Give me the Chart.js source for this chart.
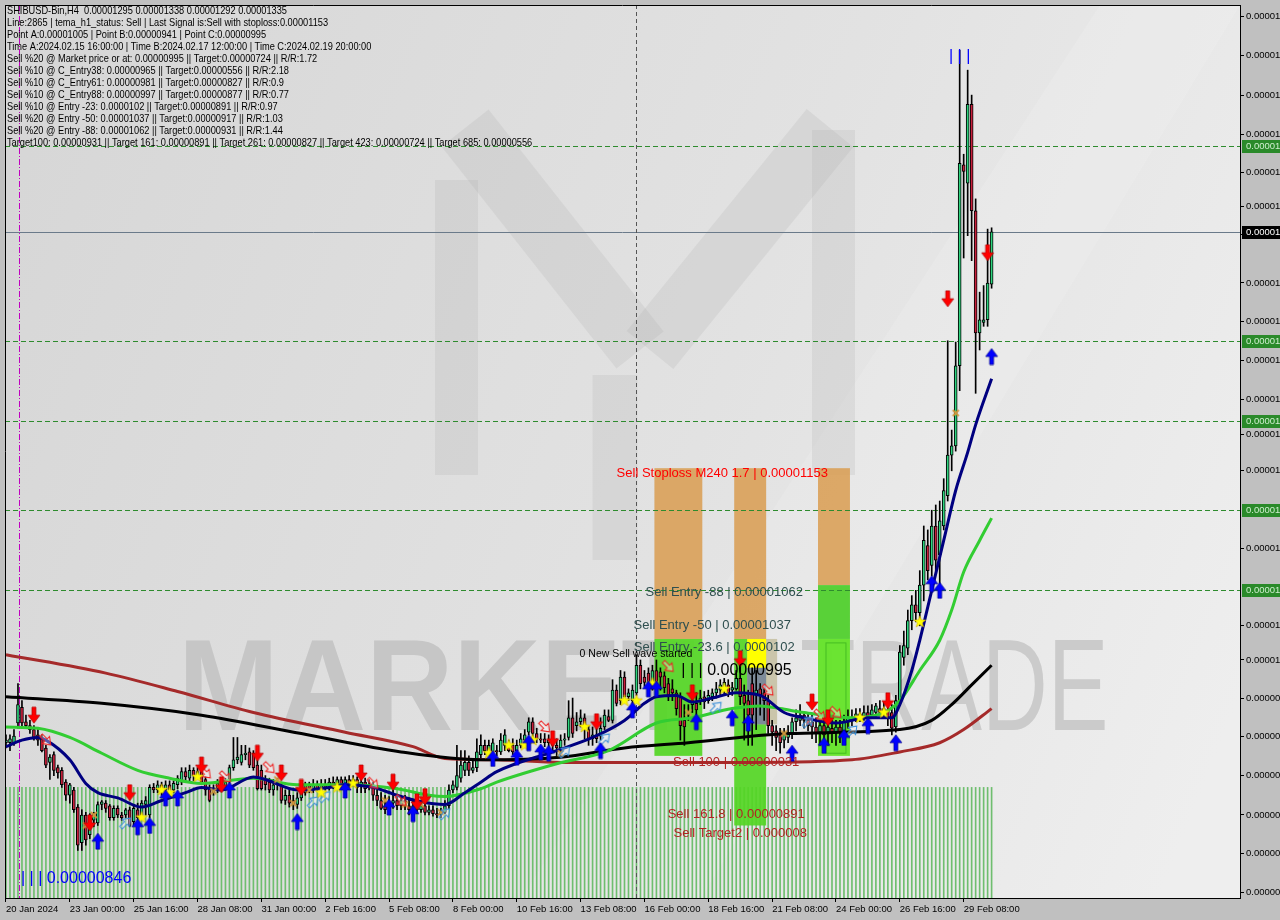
<!DOCTYPE html>
<html><head><meta charset="utf-8">
<script src="https://cdn.jsdelivr.net/npm/chart.js"></script>
<style>html,body{margin:0;padding:0;background:#c0c0c0;}canvas{display:block;}</style>
</head><body>
<canvas id="c" width="1280" height="920"></canvas>
<script>
// ---- DATA (prices in units of 1e-8 USD) ----
const xTickIdx = [0,16,32,48,64,80,96,112,128,144,160,176,192,208,224,240];
const xLabels = ['20 Jan 2024','23 Jan 00:00','25 Jan 16:00','28 Jan 08:00','31 Jan 00:00','2 Feb 16:00','5 Feb 08:00','8 Feb 00:00','10 Feb 16:00','13 Feb 08:00','16 Feb 00:00','18 Feb 16:00','21 Feb 08:00','24 Feb 00:00','26 Feb 16:00','29 Feb 08:00'];
const yTickVals = [1499,1469,1439,1409,1380,1354,1333,1296,1267,1237,1207,1181,1153,1094,1035,1009,980,951,921,891,862,832];

const open = [946,946,946,961,973,962,959,956,952,950, 942,931,937,927,925,916,906,910,897,870, 891,876,887,885,899,900,898,889,896,891, 891,895,886,895,891,899,891,912,910,914, 910,914,910,914,916,924,919,925,921,924, 918,911,908,911,915,912,918,927,933,931, 937,939,938,929,925,918,916,910,914,914, 902,906,902,899,904,908,914,911,914,912, 914,913,916,914,918,914,918,916,918,913, 916,912,914,906,902,898,896,900,902,898, 902,898,896,898,895,898,893,895,892,891, 893,898,910,912,919,925,931,925,927,937, 944,940,939,940,939,944,944,944,940,944, 948,954,962,953,949,949,946,948,944,942, 948,950,965,959,962,965,956,949,952,951, 958,966,963,986,978,996,981,978,984,1005, 996,999,992,1001,1000,997,991,987,984,981, 963,967,975,976,978,981,978,981,984,986, 986,990,986,987,995,982,978,991,982,987, 984,978,959,955,952,948,950,953,962,963, 967,963,962,958,954,959,954,957,954,958, 955,962,965,965,968,966,969,967,969,972, 969,971,969,958,978,1011,1018,1039,1051,1045, 1066,1096,1081,1111,1089,1111,1134,1165,1172,1233, 1386,1372,1432,1351,1258,1266,1268,1295];
const high = [952,952,956,991,978,967,963,959,956,952, 944,937,939,929,927,918,915,912,899,895, 893,892,893,901,902,902,899,898,898,893, 896,897,899,900,902,905,914,915,917,916, 917,917,917,921,927,927,929,927,927,925, 920,914,914,918,918,919,929,950,950,944, 944,942,940,933,929,921,919,918,919,916, 910,910,906,908,914,916,916,918,917,918, 918,919,920,920,920,920,921,921,920,919, 919,918,916,910,908,906,905,910,906,906, 906,904,902,902,902,901,898,898,896,896, 902,914,917,944,940,940,936,933,949,952, 948,948,949,944,953,956,948,949,948,953, 956,965,965,957,953,953,952,952,949,952, 953,978,980,969,971,968,959,958,957,965, 971,971,994,990,1001,1000,987,990,1013,1009, 1001,1003,1005,1009,1003,1000,995,994,986,984, 975,975,982,984,986,985,986,987,992,994, 995,994,992,1001,1005,990,986,1003,1001,991, 987,982,963,959,957,957,959,965,971,975, 969,969,967,965,963,963,963,963,963,963, 967,971,971,972,972,974,974,975,976,978, 977,978,975,982,1020,1031,1047,1058,1062,1077, 1111,1108,1123,1127,1130,1147,1252,1184,1251,1473, 1394,1458,1439,1360,1289,1294,1337,1338];
const low = [942,940,944,957,959,957,953,948,944,939, 927,918,921,919,912,902,900,893,864,864, 868,873,882,883,895,893,887,887,889,887, 889,882,883,887,889,891,889,908,908,906, 908,908,908,911,914,917,917,917,919,914, 906,901,906,908,910,910,915,925,930,929, 933,927,925,910,910,910,908,906,910,900, 899,897,895,896,902,906,908,908,910,908, 910,910,911,912,911,912,912,914,908,908, 908,910,902,898,895,892,893,896,895,895, 895,891,893,892,893,891,891,890,889,889, 892,896,908,910,916,921,921,923,924,934, 937,937,937,936,937,940,939,937,937,942, 946,952,950,946,946,943,942,940,936,936, 944,948,950,955,958,949,944,944,946,948, 956,962,961,974,975,978,978,975,982,987, 989,987,986,986,986,984,978,978,967,948, 944,963,969,967,975,972,976,978,980,982, 982,981,982,986,975,948,944,944,956,967, 963,953,944,940,938,942,946,949,955,959, 957,955,949,946,944,942,944,946,944,946, 952,957,959,962,962,963,962,965,966,967, 965,959,952,954,975,1005,1013,1032,1038,1035, 1054,1070,1073,1077,1062,1108,1130,1153,1168,1214, 1315,1332,1313,1212,1245,1263,1263,1292];
const close = [948,949,951,975,961,959,956,950,948,940, 929,935,925,923,914,906,914,895,868,891, 872,889,892,899,901,896,889,896,891,889, 895,883,896,889,900,902,912,910,914,908, 914,910,915,919,924,920,925,921,924,916, 910,902,911,915,911,916,927,933,935,937, 938,929,927,911,911,914,910,914,916,902, 906,900,899,904,910,914,911,914,911,914, 912,916,914,918,914,918,915,918,912,916, 911,914,906,902,896,895,900,902,898,902, 898,895,898,895,898,893,895,892,891,893, 898,910,914,921,929,931,925,927,939,944, 940,944,946,939,948,952,940,939,944,949, 952,962,953,949,948,946,948,944,942,948, 949,965,953,962,965,957,949,952,949,957, 967,963,986,976,996,981,984,986,1005,991, 992,991,1001,989,996,988,982,984,972,959, 958,968,978,971,980,977,982,984,987,990, 992,984,988,995,981,976,967,967,986,982, 978,959,954,950,946,954,954,962,965,967, 963,959,958,953,959,952,958,953,958,954, 962,965,963,968,965,969,966,971,974,969, 972,965,957,978,1015,1020,1039,1051,1045,1066, 1100,1077,1111,1085,1115,1138,1165,1172,1233,1387, 1381,1432,1351,1258,1268,1268,1296,1335];

const stripeLevel = 912;

const maRedIdx = [0,25,43,62,85,102,110,123,139,162,187,212,224,234,240,247];
const maRedVal = [1013,999,985,969,954,943,934,933,931,931,931,933,939,946,956,972];
const maBlackIdx = [0,24,49,74,99,119,139,155,171,196,224,232,237,242,247];
const maBlackVal = [981,976,967,953,939,933,935,942,946,953,956,963,975,990,1005];
const maGreenIdx = [0,8,16,24,33,41,49,62,73,85,98,106,110,119,123,138,151,163,172,182,189,194,200,212,220,224,229,234,237,240,244,247];
const maGreenVal = [958,957,950,938,925,919,915,919,914,914,911,906,905,911,916,930,940,961,965,972,974,972,969,965,969,978,1001,1024,1047,1076,1100,1117];
const maNavyIdx = [0,4,8,10,16,20,23,28,34,39,45,49,54,62,65,73,81,85,92,98,104,110,115,119,123,138,147,155,160,163,168,172,177,183,189,195,200,208,216,222,224,227,229,232,235,238,241,243,247];
const maNavyVal = [943,948,950,948,933,915,908,904,897,902,908,912,910,920,918,910,912,914,912,906,901,899,908,916,924,940,950,963,976,981,982,977,980,984,982,969,965,961,965,965,975,1001,1024,1062,1100,1138,1167,1188,1223];

const redDown = [[7,967],[21,885],[31,908],[49,929],[54,914],[63,938],[69,923],[74,912],[89,923],[97,916],[103,901],[105,905],[137,949],[148,962],[172,984],[184,1010],[202,977],[206,965],[221,978],[236,1284],[246,1319]];
const blueUp = [[23,871],[33,882],[36,883],[40,904],[43,904],[56,910],[73,886],[85,910],[96,897],[102,892],[122,934],[128,935],[131,946],[134,939],[136,938],[149,940],[157,971],[161,987],[163,987],[173,962],[182,965],[186,961],[197,938],[205,944],[210,950],[216,959],[223,946],[232,1067],[234,1062],[247,1240]];
const stars = [[34,889],[39,910],[41,908],[48,920],[79,908],[83,912],[87,915],[121,938],[126,944],[130,944],[132,948],[145,958],[155,978],[158,978],[162,991],[180,987],[214,965],[220,969],[229,1038]];
const xMarks = [[20,883],[22,891],[52,909],[68,918],[72,900],[76,910],[95,902],[100,899],[104,899],[109,893],[139,938],[171,969],[195,953],[238,1197]];
const hollowRed = [[10,948],[50,923],[55,920],[66,927],[92,915],[99,902],[135,958],[166,1004],[191,986],[204,967],[208,969]];
const hollowBlue = [[30,885],[77,901],[80,905],[110,892],[140,939],[150,949],[178,973],[201,962],[212,955]];

const greenLevels = [1400,1252,1191,1123,1062];
const lastPrice = 1335;
const stoploss = 1153;

const infoLines = [
 'SHIBUSD-Bin,H4  0.00001295 0.00001338 0.00001292 0.00001335',
 'Line:2865 | tema_h1_status: Sell | Last Signal is:Sell with stoploss:0.00001153',
 'Point A:0.00001005 | Point B:0.00000941 | Point C:0.00000995',
 'Time A:2024.02.15 16:00:00 | Time B:2024.02.17 12:00:00 | Time C:2024.02.19 20:00:00',
 'Sell %20 @ Market price or at: 0.00000995 || Target:0.00000724 || R/R:1.72',
 'Sell %10 @ C_Entry38: 0.00000965 || Target:0.00000556 || R/R:2.18',
 'Sell %10 @ C_Entry61: 0.00000981 || Target:0.00000827 || R/R:0.9',
 'Sell %10 @ C_Entry88: 0.00000997 || Target:0.00000877 || R/R:0.77',
 'Sell %10 @ Entry -23: 0.0000102 || Target:0.00000891 || R/R:0.97',
 'Sell %20 @ Entry -50: 0.00001037 || Target:0.00000917 || R/R:1.03',
 'Sell %20 @ Entry -88: 0.00001062 || Target:0.00000931 || R/R:1.44',
 'Target100: 0.00000931 || Target 161: 0.00000891 || Target 261: 0.00000827 || Target 423: 0.00000724 || Target 685: 0.00000556'
];

// ---- helpers ----
const REG = '"Liberation Sans", Arial, sans-serif';
const Y_MIN = 827.8, Y_MAX = 1507.6;
const fmt = v => (v / 1e8).toFixed(8);

function mk(w, h, fn) { const c = document.createElement('canvas'); c.width = w; c.height = h; fn(c.getContext('2d'), w, h); return c; }
function arrowPath(g) { g.beginPath(); g.moveTo(-2, -8); g.lineTo(2, -8); g.lineTo(2, 0); g.lineTo(6, 0); g.lineTo(0, 8); g.lineTo(-6, 0); g.lineTo(-2, 0); g.closePath(); }
const imgRedDown = mk(14, 18, g => { g.translate(7, 9); arrowPath(g); g.fillStyle = '#ff0000'; g.fill(); g.strokeStyle = '#b00000'; g.lineWidth = 0.7; g.stroke(); });
const imgBlueUp = mk(14, 18, g => { g.translate(7, 9); g.rotate(Math.PI); arrowPath(g); g.fillStyle = '#0000ff'; g.fill(); g.strokeStyle = '#00008b'; g.lineWidth = 0.7; g.stroke(); });
const imgStar = mk(14, 14, g => { g.translate(7, 7); g.beginPath(); for (let k = 0; k < 10; k++) { const r = k % 2 ? 2.6 : 6.2; const a = -Math.PI / 2 + k * Math.PI / 5; g.lineTo(r * Math.cos(a), r * Math.sin(a)); } g.closePath(); g.fillStyle = '#ffff00'; g.fill(); g.strokeStyle = '#d0b000'; g.lineWidth = 0.6; g.stroke(); });
const imgX = mk(10, 10, g => { g.strokeStyle = '#d09a3c'; g.lineWidth = 1.8; g.beginPath(); g.moveTo(2, 2); g.lineTo(8, 8); g.moveTo(8, 2); g.lineTo(2, 8); g.stroke(); });
const imgHollowRed = mk(16, 16, g => { g.translate(8, 8); g.rotate(-Math.PI / 4); g.scale(0.85, 0.85); arrowPath(g); g.fillStyle = 'rgba(255,255,255,0.35)'; g.fill(); g.strokeStyle = '#ee2222'; g.lineWidth = 1.2; g.stroke(); });
const imgHollowBlue = mk(16, 16, g => { g.translate(8, 8); g.rotate(Math.PI + Math.PI / 4); g.scale(0.85, 0.85); arrowPath(g); g.fillStyle = 'rgba(255,255,255,0.35)'; g.fill(); g.strokeStyle = '#3a8fd8'; g.lineWidth = 1.2; g.stroke(); });

const idx = open.map((_, i) => i);
const pts = arr => arr.map(([x, y]) => ({ x, y }));
const zip = (a, b) => a.map((x, k) => ({ x, y: b[k] }));

const BULL = '#2ed47e', BEAR = '#c8203c';
const datasets = [
  { type: 'bar', label: 'stripes', data: idx.map(i => ({ x: i, y: [Y_MIN, stripeLevel] })), backgroundColor: '#6fbe6f', barThickness: 1, grouped: false, order: 20 },
  { type: 'bar', label: 'wicks', data: idx.map(i => ({ x: i, y: [low[i], high[i]] })), backgroundColor: '#000', barThickness: 1, grouped: false, order: 15 },
  { type: 'bar', label: 'bodies', data: idx.map(i => { const o = open[i], c = close[i]; return { x: i, y: o === c ? [o - 0.5, c + 0.5] : [o, c] }; }),
    backgroundColor: idx.map(i => close[i] >= open[i] ? BULL : BEAR), borderColor: '#000', borderWidth: 1, borderSkipped: false, barThickness: 3, grouped: false, order: 14 },
  { type: 'line', label: 'ma-red', data: zip(maRedIdx, maRedVal), borderColor: '#a52a2a', borderWidth: 3, pointRadius: 0, cubicInterpolationMode: 'monotone', order: 10 },
  { type: 'line', label: 'ma-black', data: zip(maBlackIdx, maBlackVal), borderColor: '#000000', borderWidth: 3, pointRadius: 0, cubicInterpolationMode: 'monotone', order: 9 },
  { type: 'line', label: 'ma-green', data: zip(maGreenIdx, maGreenVal), borderColor: '#32cd32', borderWidth: 3, pointRadius: 0, cubicInterpolationMode: 'monotone', order: 8 },
  { type: 'line', label: 'ma-navy', data: zip(maNavyIdx, maNavyVal), borderColor: '#000080', borderWidth: 3, pointRadius: 0, cubicInterpolationMode: 'monotone', order: 7 },
  { type: 'line', label: 'x', data: pts(xMarks), showLine: false, pointStyle: imgX, order: 6 },
  { type: 'line', label: 'hr', data: pts(hollowRed), showLine: false, pointStyle: imgHollowRed, order: 5 },
  { type: 'line', label: 'hb', data: pts(hollowBlue), showLine: false, pointStyle: imgHollowBlue, order: 4 },
  { type: 'line', label: 'stars', data: pts(stars), showLine: false, pointStyle: imgStar, order: 3 },
  { type: 'line', label: 'down', data: pts(redDown), showLine: false, pointStyle: imgRedDown, order: 2 },
  { type: 'line', label: 'up', data: pts(blueUp), showLine: false, pointStyle: imgBlueUp, order: 1 }
];

const overlay = {
  id: 'overlay',
  beforeDraw(chart) {
    const { ctx, chartArea: a } = chart;
    ctx.save();
    ctx.fillStyle = '#c0c0c0'; ctx.fillRect(0, 0, chart.width, chart.height);
    const gr = ctx.createLinearGradient(a.left, a.top + 200, a.right, a.bottom - 200);
    gr.addColorStop(0, '#d7d7d7'); gr.addColorStop(0.55, '#e2e2e2'); gr.addColorStop(1, '#eeeeee');
    ctx.fillStyle = gr; ctx.fillRect(a.left, a.top, a.right - a.left, a.bottom - a.top);
    ctx.beginPath(); ctx.rect(a.left, a.top, a.right - a.left, a.bottom - a.top); ctx.clip();
    ctx.fillStyle = 'rgba(255,255,255,0.12)';
    ctx.beginPath(); ctx.moveTo(1100, a.top); ctx.lineTo(1240, a.top); ctx.lineTo(700, 900); ctx.lineTo(520, 900); ctx.closePath(); ctx.fill();
    const LOGO = 'rgba(170,170,170,0.2)';
    ctx.fillStyle = LOGO;
    ctx.fillRect(435, 180, 43, 295);
    ctx.fillRect(812, 130, 43, 345);
    ctx.strokeStyle = LOGO; ctx.lineWidth = 60; ctx.lineCap = 'butt';
    ctx.beginPath(); ctx.moveTo(465, 128); ctx.lineTo(640, 350); ctx.stroke();
    ctx.beginPath(); ctx.moveTo(830, 128); ctx.lineTo(650, 350); ctx.stroke();
    ctx.lineWidth = 45;
    ctx.beginPath(); ctx.moveTo(615, 375); ctx.lineTo(615, 560); ctx.stroke();
    ctx.fillStyle = '#c6c6c6';
    ctx.save(); ctx.translate(178, 730); ctx.scale(0.93, 1);
    ctx.font = 'bold 130px ' + REG; ctx.textBaseline = 'alphabetic'; ctx.fillText('MARKET', 0, 0); ctx.restore();
    ctx.fillStyle = '#cbcbcb';
    ctx.save(); ctx.translate(800, 730); ctx.scale(0.7, 1);
    ctx.font = '130px ' + REG; ctx.fillText('TRADE', 0, 0); ctx.restore();
    ctx.restore();
  },
  beforeDatasetDraw(chart, args) {
    if (args.index !== 1) return;
    const { ctx, chartArea: a, scales: { x, y } } = chart;
    const X = v => x.getPixelForValue(v), Y = v => y.getPixelForValue(v);
    ctx.save();
    ctx.beginPath(); ctx.rect(a.left, a.top, a.right - a.left, a.bottom - a.top); ctx.clip();
    const rect = (i0, i1, p0, p1, col) => { ctx.fillStyle = col; const xa = X(i0) - 2, xb = X(i1) - 2; const ya = Y(p0), yb = Y(p1); ctx.fillRect(xa, ya, xb - xa, yb - ya); };
    const ORANGE = 'rgba(218,158,84,0.88)', GREEN = 'rgba(84,214,36,0.92)';
    rect(163, 175, stoploss + 2, 1025, ORANGE); rect(163, 175, 1025, 936, GREEN);
    rect(183, 191, stoploss + 2, 1025, ORANGE); rect(183, 191, 1025, 883, GREEN);
    rect(186.25, 193.75, 1025, 960, 'rgba(196,190,160,0.85)');
    rect(186.25, 191, 1025, 1003, '#ffff00');
    rect(186.25, 191, 1003, 960, '#7d8b99');
    rect(204, 212, stoploss + 2, 1066, ORANGE); rect(204, 212, 1066, 1025, 'rgba(76,206,40,0.92)'); rect(204, 212, 1025, 936, 'rgba(100,228,40,0.95)');
    ctx.strokeStyle = 'rgba(60,180,30,0.8)'; ctx.lineWidth = 1; ctx.strokeRect(X(206) - 2, Y(1022), X(211) - X(206), Y(938) - Y(1022));
    ctx.setLineDash([5, 3]); ctx.strokeStyle = '#2e8b2e'; ctx.lineWidth = 1;
    greenLevels.forEach(p => { const yy = Math.round(Y(p)) + 0.5; ctx.beginPath(); ctx.moveTo(a.left, yy); ctx.lineTo(a.right, yy); ctx.stroke(); });
    ctx.setLineDash([]); ctx.strokeStyle = '#6a7a8a';
    { const yy = Math.round(Y(lastPrice)) + 0.5; ctx.beginPath(); ctx.moveTo(a.left, yy); ctx.lineTo(a.right, yy); ctx.stroke(); }
    ctx.strokeStyle = '#c000c0'; ctx.setLineDash([6, 2, 1, 2]);
    { const xx = Math.round(X(3.25)) + 0.5; ctx.beginPath(); ctx.moveTo(xx, a.top); ctx.lineTo(xx, a.bottom); ctx.stroke(); }
    ctx.strokeStyle = '#555'; ctx.setLineDash([4, 3]);
    { const xx = Math.round(X(158)) + 0.5; ctx.beginPath(); ctx.moveTo(xx, a.top); ctx.lineTo(xx, a.bottom); ctx.stroke(); }
    ctx.restore();
  },
  afterDatasetsDraw(chart) {
    const { ctx, chartArea: a, scales: { x, y } } = chart;
    const X = v => x.getPixelForValue(v), Y = v => y.getPixelForValue(v);
    ctx.save();
    ctx.beginPath(); ctx.rect(a.left, a.top, a.right - a.left, a.bottom - a.top); ctx.clip();
    ctx.textBaseline = 'middle';
    ctx.font = '11px ' + REG; ctx.fillStyle = '#000'; ctx.textAlign = 'left';
    infoLines.forEach((t, k) => { ctx.save(); ctx.translate(7, 11 + k * 12); ctx.scale(0.84, 1); ctx.fillText(t, 0, 0); ctx.restore(); });
    const lab = (t, i, p, dy, col, font, align) => { ctx.font = font; ctx.fillStyle = col; ctx.textAlign = align; ctx.fillText(t, X(i), Y(p) + dy); };
    lab('Sell Stoploss M240 1.7 | 0.00001153', 179.5, 1153, 3, '#ff0000', '13px ' + REG, 'center');
    lab('Sell Entry -88 | 0.00001062', 180, 1062, 2, '#2f4f4f', '13px ' + REG, 'center');
    lab('Sell Entry -50 | 0.00001037', 177, 1037, 2, '#2f4f4f', '13px ' + REG, 'center');
    lab('Sell Entry -23.6 | 0.0000102', 177.5, 1020, 2, '#2f4f4f', '13px ' + REG, 'center');
    lab('0 New Sell wave started', 143.75, 1013, -1, '#000', '10.5px ' + REG, 'left');
    lab('| | | 0.00000995', 169.25, 995, -8, '#000', '16px ' + REG, 'left');
    lab('Sell 100 | 0.00000931', 183, 931, 0, '#b22222', '13px ' + REG, 'center');
    lab('Sell 161.8 | 0.00000891', 183, 891, -1, '#b22222', '13px ' + REG, 'center');
    lab('Sell Target2 | 0.000008', 184, 877, 0, '#b22222', '13px ' + REG, 'center');
    lab('| | | 0.00000846', 3.75, 846, 5, '#0000ff', '16px ' + REG, 'left');
    lab('| | |', 239, 1473, 6, '#0000ff', '16px ' + REG, 'center');
    ctx.restore();
  },
  afterDraw(chart) {
    const { ctx, chartArea: a, scales: { y } } = chart;
    ctx.save();
    ctx.strokeStyle = '#000'; ctx.lineWidth = 1;
    ctx.beginPath(); ctx.moveTo(a.left + 0.5, a.top); ctx.lineTo(a.left + 0.5, a.bottom); ctx.moveTo(a.left, a.top + 0.5); ctx.lineTo(a.right, a.top + 0.5); ctx.stroke();
    ctx.font = '9.5px ' + REG; ctx.textBaseline = 'middle'; ctx.textAlign = 'left';
    const tag = (p, bg, fg) => { const yy = Math.round(y.getPixelForValue(p)); ctx.fillStyle = bg; ctx.fillRect(a.right + 2, yy - 6, 40, 13); ctx.fillStyle = fg; ctx.fillText(fmt(p), a.right + 6, yy + 0.5); };
    greenLevels.forEach(p => tag(p, '#2a8a2a', '#cfeecf'));
    tag(lastPrice, '#000000', '#ffffff');
    ctx.restore();
  }
};

new Chart(document.getElementById('c'), {
  type: 'bar',
  data: { datasets },
  options: {
    responsive: false, animation: false, devicePixelRatio: 1,
    layout: { padding: { left: 2, top: 3, right: 0, bottom: 0 } },
    plugins: { legend: { display: false }, tooltip: { enabled: false } },
    scales: {
      x: {
        type: 'linear', min: -0.25, max: 309.25, offset: false,
        grid: { drawOnChartArea: false, drawTicks: true, tickLength: 4, color: '#000', offset: false },
        border: { display: true, color: '#000' },
        ticks: { autoSkip: false, maxRotation: 0, minRotation: 0, align: 'start', padding: 2, color: '#000', font: { family: REG, size: 9.5 },
          callback: (v, k) => xLabels[k] },
        afterBuildTicks: s => { s.ticks = xTickIdx.map(v => ({ value: v })); },
        afterFit: s => { s.height = 22; s.paddingLeft = 0; s.paddingRight = 0; }
      },
      y: {
        type: 'linear', position: 'right', min: Y_MIN, max: Y_MAX, beginAtZero: false,
        grid: { drawOnChartArea: false, drawTicks: true, tickLength: 4, color: '#000' },
        border: { display: true, color: '#000' },
        ticks: { autoSkip: false, padding: 2, color: '#000', font: { family: REG, size: 9.5 }, callback: v => fmt(v) },
        afterBuildTicks: s => { s.ticks = yTickVals.map(v => ({ value: v })); },
        afterFit: s => { s.width = 40; s.paddingTop = 0; s.paddingBottom = 0; }
      }
    }
  },
  plugins: [overlay]
});
</script>
</body></html>
